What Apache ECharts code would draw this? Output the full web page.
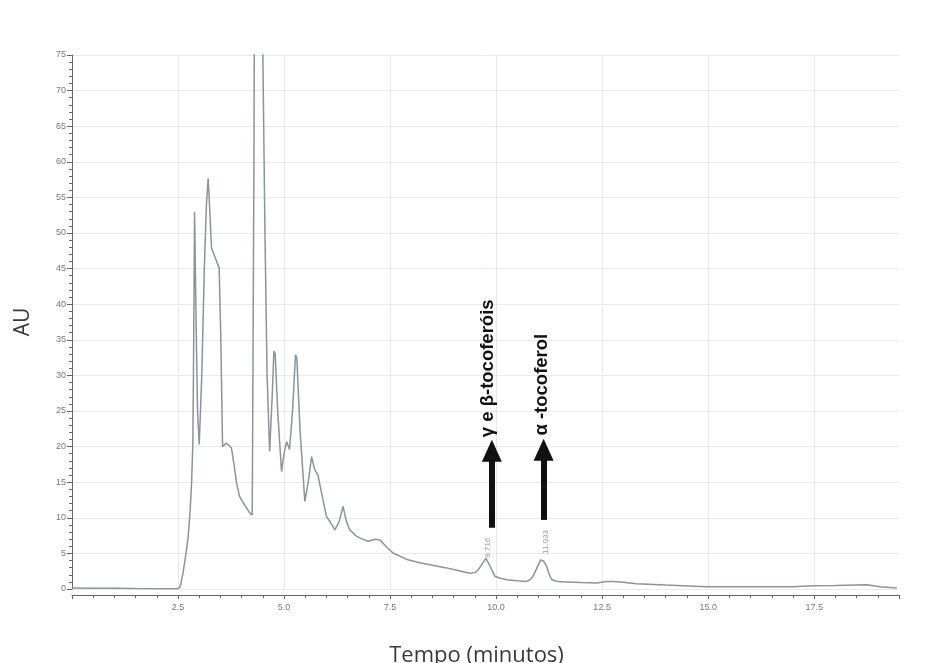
<!DOCTYPE html>
<html>
<head>
<meta charset="utf-8">
<script src="https://cdn.jsdelivr.net/npm/echarts@6/dist/echarts.min.js"></script>
<style>
  html, body { margin: 0; padding: 0; background: #fff; }
  #cromatograma { width: 930px; height: 663px; }
</style>
</head>
<body>
<div id="cromatograma"></div>
<script>
const tempo = [
  0, 0.5, 1.0, 1.5, 2.0, 2.3, 2.5, 2.55, 2.62, 2.7, 2.74, 2.78, 2.82, 2.85, 2.87, 2.89, 2.92, 2.96,
  3.0, 3.06, 3.12, 3.17, 3.21, 3.25, 3.29, 3.38, 3.47, 3.51, 3.55, 3.64, 3.76, 3.82, 3.88, 3.95,
  4.05, 4.19, 4.25, 4.29, 4.31, 4.38, 4.46, 4.50, 4.55, 4.60, 4.66, 4.72, 4.76, 4.79, 4.85, 4.94,
  5.0, 5.06, 5.13, 5.2, 5.27, 5.30, 5.38, 5.49, 5.57, 5.65, 5.72, 5.80, 5.90, 6.0, 6.1, 6.2, 6.3,
  6.39, 6.47, 6.55, 6.71, 6.85, 6.98, 7.15, 7.26, 7.4, 7.57, 7.92, 8.2, 8.44, 8.8, 9.1, 9.38, 9.5,
  9.58, 9.68, 9.76, 9.85, 9.97, 10.1, 10.25, 10.5, 10.72, 10.8, 10.87, 10.95, 11.05, 11.12, 11.19,
  11.25, 11.31, 11.45, 11.66, 12.0, 12.37, 12.6, 12.76, 13.0, 13.3, 14.0, 14.96, 16.0, 17.0, 17.47,
  18.0, 18.74, 19.05, 19.45
];
const absorbancia = [
  0.15, 0.12, 0.1, 0.06, 0.03, 0.02, 0.05, 0.3, 2.3, 5.5, 7.4, 10.5, 14.9, 20.5, 35, 53, 40, 25,
  20.3, 30, 45, 54, 57.7, 53, 47.9, 46.5, 45.1, 35, 20.0, 20.5, 19.8, 17.5, 14.9, 13,
  12, 10.7, 10.4, 60, 100, 130, 100, 75, 50, 30, 19.3, 27, 33.4, 33.1, 25, 16.5,
  19, 20.7, 19.6, 25, 32.9, 32.5, 22, 12.3, 15, 18.6, 16.8, 16.0, 13, 10.2, 9.3, 8.3, 9.5,
  11.6, 9.5, 8.3, 7.4, 7.0, 6.7, 7.0, 6.9, 6.0, 5.05, 4.1, 3.7, 3.4, 3.0, 2.6, 2.2, 2.3,
  2.7, 3.6, 4.3, 3.3, 1.8, 1.5, 1.3, 1.15, 1.07, 1.3, 1.8, 2.8, 4.1, 3.9, 3.2,
  2.1, 1.3, 1.05, 1.0, 0.9, 0.85, 1.05, 1.07, 0.95, 0.75, 0.55, 0.3, 0.3, 0.3, 0.45,
  0.5, 0.6, 0.3, 0.15
];

// anotações dos picos
const picos = ['9.716', '11.033'];
const picosPos = [[9.80, 5.8], [11.17, 6.6]];
const nomes = ['γ e β-tocoferóis', 'α -tocoferol'];
const nomesPos = [[9.80, 31.0], [11.07, 28.7]];
const setas = [[[9.9, 8.6], [9.9, 19.4]], [[11.12, 9.7], [11.12, 19.55]]];

const chart = echarts.init(document.getElementById('cromatograma'));

const cinza = '#666';

const option = {
  backgroundColor: '#fff',
  animation: false,
  grid: { left: 72, right: 31, top: 55, bottom: 74, outerBoundsMode: 'none', containLabel: false },
  xAxis: {
    type: 'value',
    min: 0,
    max: 19.5,
    interval: 2.5,
    offset: 6,
    name: 'Tempo (minutos)',
    nameLocation: 'middle',
    nameGap: 50,
    nameTextStyle: { fontSize: 22, color: '#3a3a3a', fontFamily: 'Open Sans', padding: [0, 18, 0, 0] },
    axisLine: { onZero: false, lineStyle: { color: cinza, width: 1 } },
    axisTick: { show: true, length: 4, lineStyle: { color: cinza } },
    minorTick: { show: true, splitNumber: 5, length: 3, lineStyle: { color: cinza } },
    axisLabel: {
      fontSize: 9, color: '#777', margin: 8, fontFamily: 'Liberation Sans',
      formatter: v => (v > 0 && Math.abs(v / 2.5 - Math.round(v / 2.5)) < 1e-6) ? v.toFixed(1) : ''
    },
    splitLine: { show: true, showMaxLine: false, lineStyle: { color: '#e9e9e9' } }
  },
  yAxis: {
    type: 'value',
    min: 0,
    max: 75,
    interval: 5,
    name: 'AU',
    nameLocation: 'middle',
    nameGap: 38,
    nameTextStyle: { fontSize: 21, color: '#3a3a3a', fontFamily: 'Open Sans' },
    axisLine: { show: true, lineStyle: { color: cinza, width: 1 } },
    axisTick: { show: true, length: 5, lineStyle: { color: cinza } },
    minorTick: { show: true, splitNumber: 5, length: 3, lineStyle: { color: cinza } },
    axisLabel: { fontSize: 9, color: '#777', margin: 6, fontFamily: 'Liberation Sans' },
    splitLine: { show: true, lineStyle: { color: '#e9e9e9' } }
  },
  series: [
    {
      type: 'line',
      data: tempo.map((t, i) => [t, absorbancia[i]]),
      showSymbol: false,
      smooth: false,
      clip: true,
      lineStyle: { color: '#8d929b', width: 1.5 },
      z: 3
    },
    {
      type: 'line',
      data: [],
      markLine: {
        silent: true,
        symbol: ['none', 'triangle'],
        symbolSize: [20, 22],
        label: { show: false },
        lineStyle: { color: '#111', width: 6, type: 'solid' },
        data: setas.map(s => [{ coord: s[0] }, { coord: s[1] }])
      },
      markPoint: {
        silent: true,
        symbol: 'circle',
        symbolSize: 0,
        data: nomes.map((n, i) => ({
          name: n, coord: nomesPos[i],
          label: {
            show: true, formatter: '{b}', rotate: 90, position: 'inside',
            fontSize: 18.5, fontWeight: 'bold', color: '#111', fontFamily: 'Liberation Sans'
          }
        })).concat(picos.map((p, i) => ({
          name: p, coord: picosPos[i],
          label: {
            show: true, formatter: '{b}', rotate: 90, position: 'inside',
            fontSize: 8, color: '#999', fontFamily: 'Liberation Sans'
          }
        })))
      }
    }
  ]
};

chart.setOption(option);
window.addEventListener('resize', () => { chart.resize() });
</script>
</body>
</html>
